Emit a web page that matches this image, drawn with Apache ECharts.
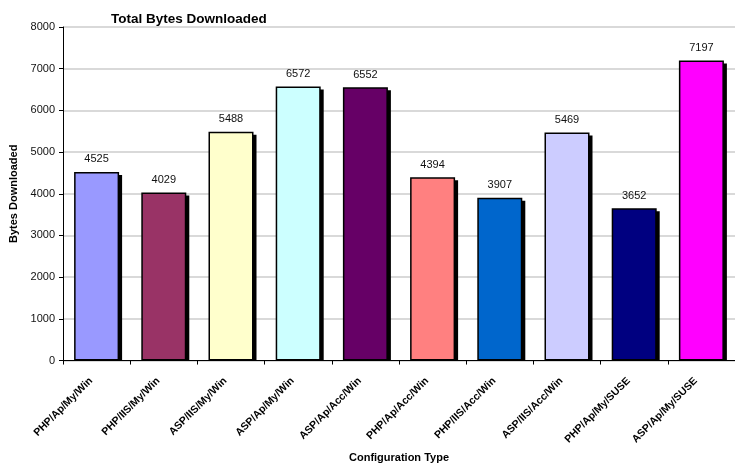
<!DOCTYPE html>
<html>
<head>
<meta charset="utf-8">
<script src="https://cdn.jsdelivr.net/npm/echarts@6/dist/echarts.min.js"></script>
<style>
  html, body { margin: 0; padding: 0; background: #fff; }
  #chart { width: 735px; height: 468px; }
</style>
</head>
<body>
<div id="chart"></div>
<script>
// Configurations tested and total bytes downloaded for each
const categories = [
  'PHP/Ap/My/Win', 'PHP/IIS/My/Win', 'ASP/IIS/My/Win', 'ASP/Ap/My/Win', 'ASP/Ap/Acc/Win',
  'PHP/Ap/Acc/Win', 'PHP/IIS/Acc/Win', 'ASP/IIS/Acc/Win', 'PHP/Ap/My/SUSE', 'ASP/Ap/My/SUSE'
];
const bytesDownloaded = [4525, 4029, 5488, 6572, 6552, 4394, 3907, 5469, 3652, 7197];
const barColors = [
  '#9999FF', '#993366', '#FFFFCC', '#CCFFFF', '#660066',
  '#FF8080', '#0066CC', '#CCCCFF', '#000080', '#FF00FF'
];
const yTicks = { min: 0, max: 8000, interval: 1000 };

const chart = echarts.init(document.getElementById('chart'), null, { renderer: 'canvas' });

const font = 'Arial, "Liberation Sans", Helvetica, sans-serif';
const BAR_W = 45;
const SHADOW = 3;

chart.setOption({
  animation: false,
  backgroundColor: '#ffffff',
  title: {
    text: 'Total Bytes Downloaded',
    left: 106,
    top: 7,
    textStyle: { fontFamily: font, fontSize: 13.5, fontWeight: 'bold', color: '#000' }
  },
  grid: { left: 63, right: -12, top: 27, bottom: 106, containLabel: false },
  xAxis: {
    type: 'category',
    data: categories,
    name: 'Configuration Type',
    nameLocation: 'middle',
    nameGap: 90,
    nameTextStyle: { fontFamily: font, fontSize: 11, fontWeight: 'bold', color: '#000' },
    axisLine: { lineStyle: { color: '#000', width: 1 } },
    axisTick: { show: true, length: 4, lineStyle: { color: '#000' } },
    axisLabel: {
      rotate: 45,
      interval: 0,
      margin: 13,
      padding: [0, 8, 0, 0],
      fontFamily: font,
      fontSize: 10.5,
      fontWeight: 'bold',
      color: '#000'
    },
    splitLine: { show: false }
  },
  yAxis: {
    type: 'value',
    min: yTicks.min,
    max: yTicks.max,
    interval: yTicks.interval,
    name: 'Bytes Downloaded',
    nameLocation: 'middle',
    nameGap: 37,
    nameRotate: 90,
    nameTextStyle: { fontFamily: font, fontSize: 11, fontWeight: 'bold', color: '#000' },
    axisLine: { show: true, lineStyle: { color: '#000', width: 1 } },
    axisTick: { show: true, length: 4, lineStyle: { color: '#000' } },
    axisLabel: {
      fontFamily: font, fontSize: 11, color: '#111', margin: 8,
      formatter: v => String(v)
    },
    splitLine: { show: true, lineStyle: { color: '#d9d9d9', width: 2 } }
  },
  series: [
    {
      // black drop shadow offset right/down behind each bar, stopping at the axis
      type: 'custom',
      silent: true,
      z: 1,
      data: bytesDownloaded.map((v, i) => [i, v]),
      renderItem: (params, api) => {
        const top = api.coord([api.value(0), api.value(1)]);
        const base = api.coord([api.value(0), 0]);
        return {
          type: 'rect',
          shape: {
            x: top[0] - BAR_W / 2 + SHADOW,
            y: top[1] + SHADOW,
            width: BAR_W,
            height: base[1] - top[1] - SHADOW
          },
          style: { fill: '#000' }
        };
      }
    },
    {
      type: 'bar',
      barWidth: BAR_W,
      data: bytesDownloaded.map((v, i) => ({
        value: v,
        itemStyle: { color: barColors[i] }
      })),
      itemStyle: { borderColor: '#000', borderWidth: 1.5 },
      label: {
        show: true,
        position: 'top',
        distance: 7,
        fontFamily: font,
        fontSize: 11,
        color: '#111'
      },
      z: 2
    }
  ]
});
</script>
</body>
</html>
